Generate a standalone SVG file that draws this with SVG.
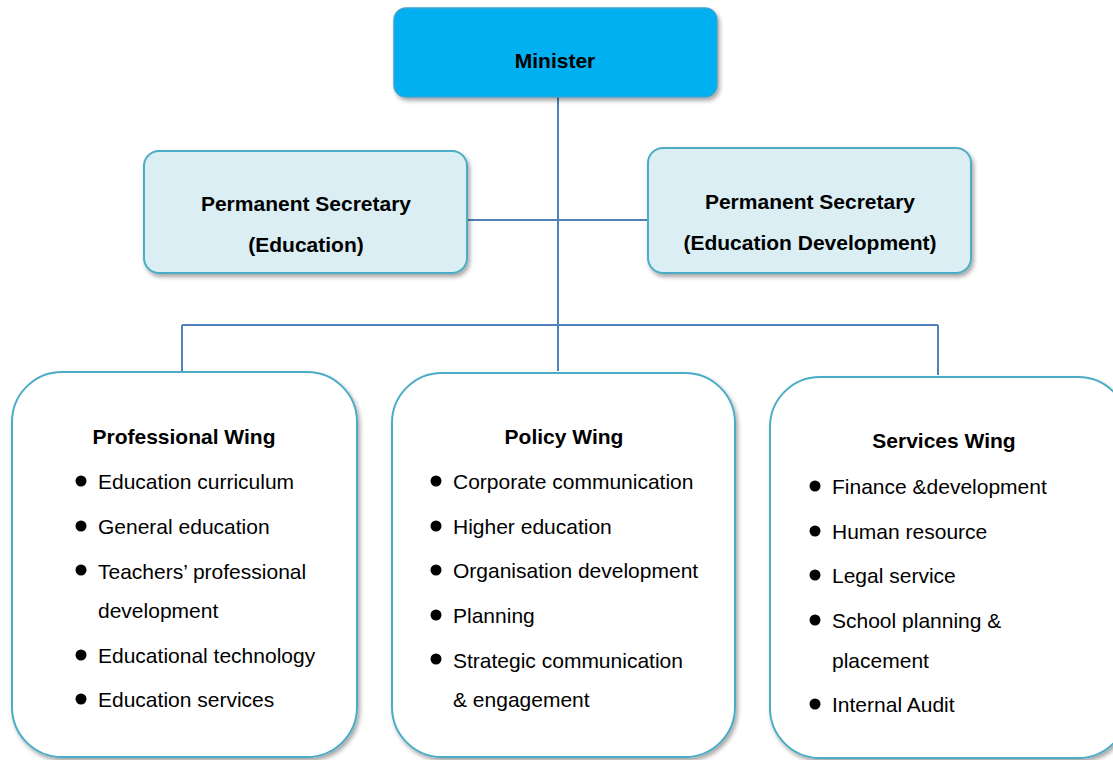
<svg xmlns="http://www.w3.org/2000/svg" width="1113" height="760" viewBox="0 0 1113 760">
<defs>
<filter id="sh" x="-10%" y="-10%" width="125%" height="130%">
<feDropShadow dx="2" dy="3" stdDeviation="2" flood-color="#000" flood-opacity="0.35"/>
</filter>
<style>
text{font-family:"Liberation Sans",Arial,sans-serif;fill:#000;font-size:21px}
.b{font-weight:bold;text-anchor:middle}
.top{fill:#00B0F0;stroke:#3FA3D0;stroke-width:1.5;filter:url(#sh)}
.ps{fill:#DAEEF3;stroke:#4BACC6;stroke-width:2;filter:url(#sh)}
.wing{fill:#fff;stroke:#4BACC6;stroke-width:2;filter:url(#sh)}
.c{stroke:#4F81BD;stroke-width:2;fill:none}
.dot{fill:#000}
</style>
</defs>
<rect width="1113" height="760" fill="#fff"/>
<g id="connectors">
<path class="c" d="M558 97V371M467 220H648M182 325H938M182 325V371M938 325V375"/>
</g>
<g id="minister">
<rect class="top" x="394" y="8" width="323" height="89" rx="12"/>
<text class="b" x="555" y="68">Minister</text>
</g>
<g id="ps-education">
<rect class="ps" x="144" y="151" width="323" height="122" rx="15"/>
<text class="b" x="306" y="211">Permanent Secretary</text>
<text class="b" x="306" y="252">(Education)</text>
</g>
<g id="ps-development">
<rect class="ps" x="648" y="148" width="323" height="125" rx="15"/>
<text class="b" x="810" y="209">Permanent Secretary</text>
<text class="b" x="810" y="250">(Education Development)</text>
</g>
<g id="professional-wing">
<rect class="wing" x="12" y="372" width="345" height="385" rx="50"/>
<text class="b" x="184" y="444">Professional Wing</text>
<circle class="dot" cx="81" cy="481" r="5.5"/><text x="98" y="489">Education curriculum</text>
<circle class="dot" cx="81" cy="526" r="5.5"/><text x="98" y="534">General education</text>
<circle class="dot" cx="81" cy="570" r="5.5"/><text x="98" y="579">Teachers’ professional</text>
<text x="98" y="618">development</text>
<circle class="dot" cx="81" cy="655" r="5.5"/><text x="98" y="663">Educational technology</text>
<circle class="dot" cx="81" cy="699" r="5.5"/><text x="98" y="707">Education services</text>
</g>
<g id="policy-wing">
<rect class="wing" x="392" y="373" width="343" height="384" rx="50"/>
<text class="b" x="564" y="444">Policy Wing</text>
<circle class="dot" cx="436" cy="481" r="5.5"/><text x="453" y="489">Corporate communication</text>
<circle class="dot" cx="436" cy="526" r="5.5"/><text x="453" y="534">Higher education</text>
<circle class="dot" cx="436" cy="570" r="5.5"/><text x="453" y="578">Organisation development</text>
<circle class="dot" cx="436" cy="615" r="5.5"/><text x="453" y="623">Planning</text>
<circle class="dot" cx="436" cy="659" r="5.5"/><text x="453" y="668">Strategic communication</text>
<text x="453" y="707">&amp; engagement</text>
</g>
<g id="services-wing">
<rect class="wing" x="770" y="377" width="358" height="381" rx="50"/>
<text class="b" x="944" y="448">Services Wing</text>
<circle class="dot" cx="815" cy="486" r="5.5"/><text x="832" y="494">Finance &amp;development</text>
<circle class="dot" cx="815" cy="531" r="5.5"/><text x="832" y="539">Human resource</text>
<circle class="dot" cx="815" cy="575" r="5.5"/><text x="832" y="583">Legal service</text>
<circle class="dot" cx="815" cy="620" r="5.5"/><text x="832" y="628">School planning &amp;</text>
<text x="832" y="668">placement</text>
<circle class="dot" cx="815" cy="704" r="5.5"/><text x="832" y="712">Internal Audit</text>
</g>
</svg>
